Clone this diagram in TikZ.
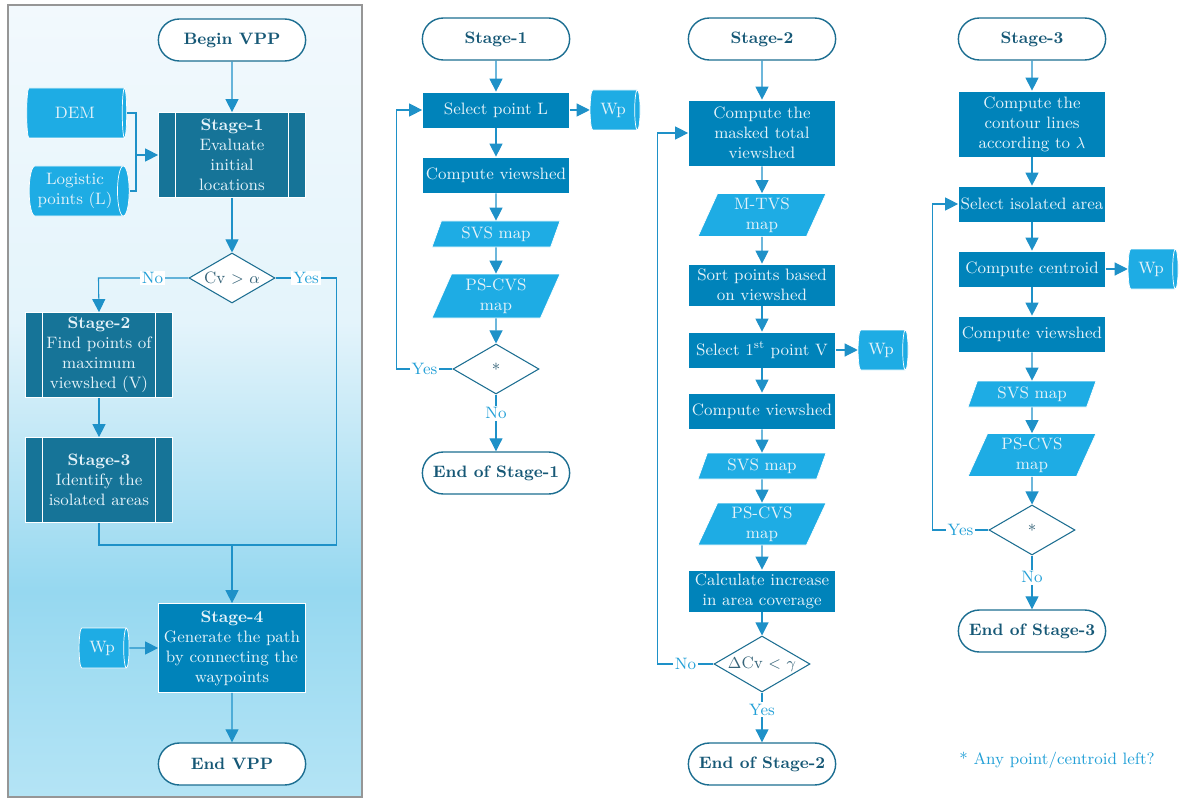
\documentclass[tikz,border=0pt]{standalone}
\usepackage{tikz}
\usetikzlibrary{shapes.misc, shapes.geometric}
\usetikzlibrary{arrows,arrows.meta}
\usetikzlibrary{calc}
\definecolor{termline}{RGB}{28,110,145}
\definecolor{termtext}{RGB}{22,88,118}
\definecolor{procblue}{RGB}{0,131,186}
\definecolor{stageblue}{RGB}{22,116,152}
\definecolor{datablue}{RGB}{30,172,228}
\definecolor{boxtext}{RGB}{228,242,249}
\definecolor{linkblue}{RGB}{30,145,200}
\definecolor{lblblue}{RGB}{35,160,215}
\definecolor{panelgray}{RGB}{150,150,150}
\definecolor{bgtop}{RGB}{242,249,253}
\definecolor{bgmid}{RGB}{228,244,251}
\definecolor{bgdeep}{RGB}{150,216,240}
\definecolor{bgbot}{RGB}{180,228,245}
\pgfdeclareverticalshading{panelshade}{100bp}{color(0bp)=(bgbot); color(25bp)=(bgbot); color(38bp)=(bgdeep); color(55bp)=(bgmid); color(75bp)=(bgtop); color(100bp)=(bgtop)}

\begin{document}
\begin{tikzpicture}[x=0.2mm, y=-0.2mm, font=\fontsize{9.4}{11.4}\selectfont,
    terminal/.style={rounded rectangle, draw=termline, line width=0.8pt, fill=white, text=termtext,
        font=\fontsize{9.4}{11.4}\selectfont\bfseries, minimum width=31.8mm, minimum height=8.4mm},
    process/.style={rectangle, draw=white, fill=procblue, text=boxtext, align=center,
        minimum width=29.4mm, minimum height=7.2mm, inner sep=1pt},
    stagebox/.style={process, fill=stageblue, minimum height=17mm,
        path picture={
            \draw[white] ([xshift=3.4mm]path picture bounding box.north west) -- ([xshift=3.4mm]path picture bounding box.south west);
            \draw[white] ([xshift=-3.4mm]path picture bounding box.north east) -- ([xshift=-3.4mm]path picture bounding box.south east);
        }},
    datamap/.style={trapezium, trapezium left angle=63, trapezium right angle=117, trapezium stretches body,
        draw=white, fill=datablue, text=boxtext, align=center, minimum width=25.6mm, minimum height=5.2mm, inner sep=1pt},
    store/.style={cylinder, draw=white, fill=datablue, text=boxtext, align=center, aspect=0.3,
        minimum width=8mm, minimum height=10mm, inner sep=1pt},
    decision/.style={diamond, draw=termline, line width=0.6pt, fill=white, text=termtext!70!gray,
        aspect=1.75, minimum width=17.2mm, minimum height=10mm, inner sep=0pt},
    link/.style={draw=linkblue, line width=0.6pt, -{Triangle[length=2.6mm, width=2.6mm]}},
    plain/.style={draw=linkblue, line width=0.6pt},
    lbl/.style={fill=white, text=lblblue, inner sep=1pt}
]

    \useasboundingbox (0,0) rectangle (1181,798);

    % overview panel
    \path[draw=panelgray, line width=0.9pt, shading=panelshade] (8,5) rectangle (362,797);

    \node[terminal] (begin) at (232,40) {Begin VPP};
    \node[store, minimum width=10mm, minimum height=20mm] (dem) at (75,113) {DEM};
    \node[store, minimum width=10mm, minimum height=20mm] (logi) at (75,191) {Logistic\\points (L)};
    \node[stagebox] (st1) at (232,155) {\textbf{Stage-1}\\Evaluate\\initial\\locations};
    \node[decision] (cv) at (232,278) {Cv $>$ $\alpha$};
    \node[stagebox] (st2) at (99,355) {\textbf{Stage-2}\\Find points of\\maximum\\viewshed (V)};
    \node[stagebox] (st3) at (99,480) {\textbf{Stage-3}\\Identify the\\isolated areas};
    \node[process, minimum height=17.8mm] (st4) at (232,648) {\textbf{Stage-4}\\Generate the path\\by connecting the\\waypoints};
    \node[store] (wp0) at (102,648) {Wp};
    \node[terminal] (end) at (232,764) {End VPP};
    \coordinate (join) at (136,155);
    \coordinate (merge) at (232,545);

    \draw[link] (begin) -- (st1);
    \draw[plain] (dem.east) -| (join);
    \draw[plain] (logi.east) -| (join);
    \draw[link] (join) -- (st1.west);
    \draw[link] (st1) -- (cv);
    \draw[link] (cv.west) -- node[lbl, pos=0.4] {No} ++(-90,0) -- (st2.north);
    \draw[plain] (cv.east) -- node[lbl] {Yes} ++(61,0) |- (merge);
    \draw[link] (st2) -- (st3);
    \draw[plain] (st3.south) |- (merge);
    \draw[link] (merge) -- (st4.north);
    \draw[link] (wp0) -- (st4);
    \draw[link] (st4) -- (end);

    % stage 1
    \node[terminal] (s1) at (496,39) {Stage-1};
    \node[process] (selL) at (496,110) {Select point L};
    \node[store] (wp1) at (613,110) {Wp};
    \node[process] (view1) at (496,175) {Compute viewshed};
    \node[datamap] (svs1) at (496,234) {SVS map};
    \node[datamap, minimum height=8.8mm] (ps1) at (496,296) {PS-CVS\\map};
    \node[decision] (q1) at (496,369) {*};
    \node[terminal] (e1) at (496,473) {End of Stage-1};

    \draw[link] (s1) -- (selL);
    \draw[link] (selL) -- (wp1);
    \draw[link] (selL) -- (view1);
    \draw[link] (view1) -- (svs1);
    \draw[link] (svs1) -- (ps1);
    \draw[link] (ps1) -- (q1);
    \draw[link] (q1.west) -- node[lbl] {Yes} ++(-56,0) |- (selL.west);
    \draw[link] (q1.south) -- node[lbl, pos=0.33] {No} (e1.north);

    % stage 2
    \node[terminal] (s2) at (762,39) {Stage-2};
    \node[process, minimum height=13.2mm] (mask2) at (762,133) {Compute the\\masked total\\viewshed};
    \node[datamap, minimum height=8.6mm] (mtvs2) at (762,215) {M-TVS\\map};
    \node[process, minimum height=8.4mm] (sort2) at (762,285) {Sort points based\\on viewshed};
    \node[process] (selV) at (762,350) {Select 1\textsuperscript{st} point V};
    \node[store] (wp2) at (881,350) {Wp};
    \node[process] (view2) at (762,411) {Compute viewshed};
    \node[datamap] (svs2) at (762,466) {SVS map};
    \node[datamap, minimum height=8.4mm] (ps2) at (762,524) {PS-CVS\\map};
    \node[process, minimum height=8.4mm] (inc2) at (762,591) {Calculate increase\\in area coverage};
    \node[decision, minimum width=19.2mm, minimum height=11.2mm] (q2) at (762,664) {$\Delta$Cv $<$ $\gamma$};
    \node[terminal] (e2) at (762,764) {End of Stage-2};

    \draw[link] (s2) -- (mask2);
    \draw[link] (mask2) -- (mtvs2);
    \draw[link] (mtvs2) -- (sort2);
    \draw[link] (sort2) -- (selV);
    \draw[link] (selV) -- (wp2);
    \draw[link] (selV) -- (view2);
    \draw[link] (view2) -- (svs2);
    \draw[link] (svs2) -- (ps2);
    \draw[link] (ps2) -- (inc2);
    \draw[link] (inc2) -- (q2);
    \draw[link] (q2.west) -- node[lbl] {No} ++(-56,0) |- (mask2.west);
    \draw[link] (q2.south) -- node[lbl, pos=0.35] {Yes} (e2.north);

    % stage 3
    \node[terminal] (s3) at (1032,39) {Stage-3};
    \node[process, minimum height=13.2mm] (cont3) at (1032,124) {Compute the\\contour lines\\according to $\lambda$};
    \node[process] (iso3) at (1032,204) {Select isolated area};
    \node[process] (cen3) at (1032,269) {Compute centroid};
    \node[store] (wp3) at (1151,269) {Wp};
    \node[process] (view3) at (1032,334) {Compute viewshed};
    \node[datamap] (svs3) at (1032,394) {SVS map};
    \node[datamap, minimum height=8.6mm] (ps3) at (1032,455) {PS-CVS\\map};
    \node[decision] (q3) at (1032,530) {*};
    \node[terminal] (e3) at (1032,631) {End of Stage-3};

    \draw[link] (s3) -- (cont3);
    \draw[link] (cont3) -- (iso3);
    \draw[link] (iso3) -- (cen3);
    \draw[link] (cen3) -- (wp3);
    \draw[link] (cen3) -- (view3);
    \draw[link] (view3) -- (svs3);
    \draw[link] (svs3) -- (ps3);
    \draw[link] (ps3) -- (q3);
    \draw[link] (q3.west) -- node[lbl] {Yes} ++(-56,0) |- (iso3.west);
    \draw[link] (q3.south) -- node[lbl, pos=0.4] {No} (e3.north);

    \node[text=lblblue] (note) at (1057,760) {* Any point/centroid left?};

\end{tikzpicture}
\end{document}
